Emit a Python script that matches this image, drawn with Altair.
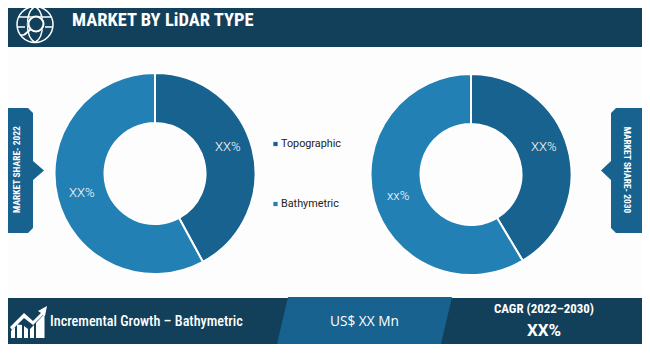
import altair as alt
import pandas as pd

# Image-pixel frame: the page margin is 8px, so the scales start at 8.
W, H = 634, 336
xs = alt.Scale(domain=[8, 8 + W], range=[0, W])
ys = alt.Scale(domain=[8, 8 + H], range=[0, H])
X = alt.X("x:Q", scale=xs, axis=None)
Y = alt.Y("y:Q", scale=ys, axis=None)

DARK = "#12405a"
MID = "#17628f"
LIGHT = "#2280b5"
COND = "Roboto Condensed"

# values
segments = ["Topographic", "Bathymetric"]
share_2022 = [42.1, 57.9]
share_2030 = [41.4, 58.6]
centers = {"2022": (155, 173.5), "2030": (471, 174.5)}

# rectangles: x, x2, y, y2, colour
rects = pd.DataFrame([
    dict(x=8, x2=642, y=8, y2=47, c=DARK),
    dict(x=8, x2=642, y=298, y2=344, c=DARK),
])


def poly(layer_d, color, x, y, sw=1, filled=True):
    mark = dict(shape=layer_d, size=4, filled=filled, opacity=1)
    if filled:
        mark.update(fill=color, strokeWidth=0)
    else:
        mark.update(stroke=color, strokeWidth=sw, fill=None)
    return alt.Chart(pd.DataFrame({"x": [x], "y": [y]})).mark_point(**mark).encode(x=X, y=Y)


layers = [
    alt.Chart(rects).mark_rect().encode(
        x=X, x2="x2:Q", y=Y, y2="y2:Q", color=alt.Color("c:N", scale=None)
    ),
    # middle parallelogram
    poly("M288 297L452 297L441 344L277 344Z", MID, 0, 0),
    # side tabs
    poly("M-10 108L28 108L33 113L33 161L44 170.5L33 180L33 228L28 233L-10 233Z", MID, 0, 0),
    poly("M616 108L644 108L644 233L616 233L611 228L611 180L601 170.5L611 161L611 113Z", MID, 0, 0),
    # globe icon
    poly("M35 6.5A18 18 0 1 0 35 42.5A18 18 0 1 0 35 6.5Z"
         "M35 6.5C25 12 25 37 35 42.5M35 6.5C45 12 45 37 35 42.5"
         "M19 17L51 17M17 27L25 27M45 27L53 27M20 35L24 35", "white", 0, 0, filled=False, sw=1.5),
    poly("M36 15.5A8.5 8.5 0 1 0 36 32.5A8.5 8.5 0 1 0 36 15.5Z", DARK, 0, 0),
    poly("M36 16.5A7.5 7.5 0 1 0 36 31.5A7.5 7.5 0 1 0 36 16.5Z"
         "M30.5 29.5L24 35", "white", 0, 0, filled=False, sw=2),
    # growth icon
    poly("M11 338L15 338L15 327L11 331ZM17 338L22 338L22 325L17 324.5Z"
         "M24 338L28 338L28 329L24 326ZM30 338L34 338L34 325L30 329Z"
         "M36 338L44.5 338L44.5 314L36 323Z", "white", 0, 0),
    poly("M10 327L24 313L33 321L41 313L38 311L47 306L45 316L43 315L33 325L24 318L12 330Z", "white", 0, 0),
]

# donuts
for year, values in [("2022", share_2022), ("2030", share_2030)]:
    cx, cy = centers[year]
    df = pd.DataFrame({"segment": segments, "share": values, "x": cx, "y": cy, "o": [0, 1]})
    layers.append(
        alt.Chart(df).mark_arc(
            outerRadius=100.5, innerRadius=50.5, stroke="white", strokeWidth=2
        ).encode(
            x=X, y=Y,
            theta=alt.Theta("share:Q", stack=True, scale=alt.Scale(domain=[0, 100], range=[0, 6.2832])),
            order=alt.Order("o:Q"),
            color=alt.Color("segment:N", scale=alt.Scale(domain=segments, range=[MID, LIGHT]), legend=None),
        )
    )

# legend keys
keys = pd.DataFrame({"x": [275.5, 275.5], "y": [144, 204], "segment": segments})
layers.append(
    alt.Chart(keys).mark_square(size=18, opacity=1).encode(
        x=X, y=Y,
        color=alt.Color("segment:N", scale=alt.Scale(domain=segments, range=[MID, LIGHT]), legend=None),
    )
)


def text(df_rows, **kw):
    base = dict(align="left", baseline="middle", font="Roboto", color="white")
    base.update(kw)
    return alt.Chart(pd.DataFrame(df_rows)).mark_text(**base).encode(x=X, y=Y, text="t:N")


layers += [
    text([dict(x=72, y=20, t="MARKET BY LiDAR TYPE")], font=COND, fontWeight="bold", fontSize=18.5),
    text([dict(x=281, y=144, t="Topographic"), dict(x=281, y=204, t="Bathymetric")], color="#222222", fontSize=10.8),
    text([dict(x=215, y=147, t="XX%"), dict(x=69, y=193, t="XX%"),
          dict(x=531, y=147, t="XX%"), dict(x=387, y=196, t="xx%")], fontSize=13, fontWeight=300),
    text([dict(x=50, y=321.5, t="Incremental Growth – Bathymetric")], font=COND, fontWeight=500, fontSize=14.2),
    text([dict(x=330, y=321.5, t="US$ XX Mn")], font="Open Sans", fontSize=13.7),
    text([dict(x=544, y=309, t="CAGR (2022–2030)")], align="center", font=COND, fontWeight="bold", fontSize=12.9),
    text([dict(x=544, y=331, t="XX%")], align="center", fontWeight="bold", fontSize=17),
    text([dict(x=16.5, y=169.5, t="MARKET SHARE- 2022")], align="center", angle=270,
         font=COND, fontWeight="bold", fontSize=9.5),
    text([dict(x=627, y=170, t="MARKET SHARE- 2030")], align="center", angle=90,
         font=COND, fontWeight="bold", fontSize=9.5),
]

chart = alt.layer(*layers).properties(
    width=W, height=H, padding=0, background="#fdfdfd",
    autosize=alt.AutoSizeParams(type="none"),
).resolve_scale(color="independent").configure_view(stroke=None)

chart.save("out.html", embed_options={"renderer": "svg", "actions": False})
